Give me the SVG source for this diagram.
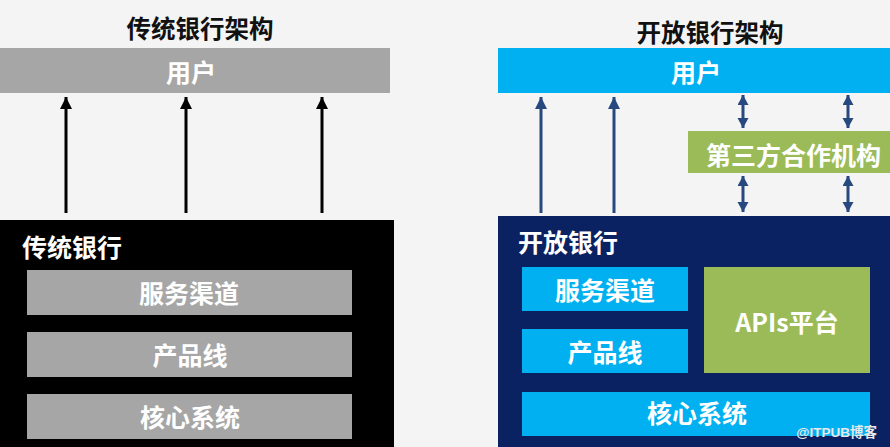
<svg xmlns="http://www.w3.org/2000/svg" width="890" height="447" viewBox="0 0 890 447">
<defs>
<style>
text{font-family:"Noto Sans CJK SC","Liberation Sans",sans-serif;font-weight:bold;dominant-baseline:central}
.w{fill:#ffffff}
.c{text-anchor:middle}
.t{fill:#111111;font-size:24.5px;text-anchor:middle}
.l{font-size:25px}
.ka{stroke:#000;stroke-width:3;fill:none}
.ba{stroke:#27497f;stroke-width:3;fill:none}
</style>
<marker id="hk" markerUnits="userSpaceOnUse" markerWidth="14" markerHeight="14" refX="12" refY="6" orient="auto"><path d="M0,0 L12,6 L0,12 Z" fill="#000"/></marker>
<marker id="hb" markerUnits="userSpaceOnUse" markerWidth="14" markerHeight="14" refX="12" refY="6" orient="auto"><path d="M0,0 L12,6 L0,12 Z" fill="#27497f"/></marker>
<marker id="hbs" markerUnits="userSpaceOnUse" markerWidth="12" markerHeight="12" refX="10" refY="5.5" orient="auto-start-reverse"><path d="M0,0 L10,5.5 L0,11 Z" fill="#27497f"/></marker>
</defs>
<rect width="890" height="447" fill="#f4f4f4"/>

<g id="title-left"><text class="t" x="200" y="27">传统银行架构</text></g>
<g id="title-right"><text class="t" x="710" y="31">开放银行架构</text></g>

<g id="user-left"><rect x="0" y="48" width="390" height="45" fill="#a6a6a6"/><text class="w c l" x="191" y="71">用户</text></g>
<g id="user-right"><rect x="498" y="48" width="392" height="45" fill="#00b0f0"/><text class="w c l" x="696" y="71">用户</text></g>

<g id="trad-bank"><rect x="0" y="220" width="394" height="227" fill="#000000"/><text class="w l" x="22" y="246">传统银行</text></g>
<g id="trad-channel"><rect x="27" y="270" width="325" height="45" fill="#a6a6a6"/><text class="w c l" x="189" y="292">服务渠道</text></g>
<g id="trad-product"><rect x="27" y="332" width="325" height="45" fill="#a6a6a6"/><text class="w c l" x="190" y="354">产品线</text></g>
<g id="trad-core"><rect x="27" y="394" width="325" height="45" fill="#a6a6a6"/><text class="w c l" x="190" y="416">核心系统</text></g>

<g id="third-party"><rect x="688" y="131" width="202" height="42" fill="#9bbb59"/><text class="w l" x="706" y="154">第三方合作机构</text></g>

<g id="open-bank"><rect x="498" y="216" width="392" height="231" fill="#0b2262"/><text class="w l" x="518" y="241">开放银行</text></g>
<g id="open-channel"><rect x="522" y="267" width="166" height="44" fill="#00b0f0"/><text class="w c l" x="605" y="289">服务渠道</text></g>
<g id="open-product"><rect x="522" y="329" width="166" height="44" fill="#00b0f0"/><text class="w c l" x="605" y="351">产品线</text></g>
<g id="open-api"><rect x="704" y="267" width="166" height="106" fill="#9bbb59"/><text class="w c l" x="787" y="321">APIs平台</text></g>
<g id="open-core"><rect x="522" y="392" width="348" height="44" fill="#00b0f0"/><text class="w c l" x="697" y="412">核心系统</text></g>

<g id="connectors">
<line class="ka" x1="66" y1="213" x2="66" y2="97" marker-end="url(#hk)"/>
<line class="ka" x1="186" y1="213" x2="186" y2="97" marker-end="url(#hk)"/>
<line class="ka" x1="322" y1="213" x2="322" y2="97" marker-end="url(#hk)"/>
<line class="ba" x1="541" y1="213" x2="541" y2="97" marker-end="url(#hb)"/>
<line class="ba" x1="614" y1="213" x2="614" y2="97" marker-end="url(#hb)"/>
<line class="ba" x1="743" y1="95" x2="743" y2="128" marker-start="url(#hbs)" marker-end="url(#hbs)"/>
<line class="ba" x1="848" y1="95" x2="848" y2="128" marker-start="url(#hbs)" marker-end="url(#hbs)"/>
<line class="ba" x1="743" y1="176" x2="743" y2="212" marker-start="url(#hbs)" marker-end="url(#hbs)"/>
<line class="ba" x1="848" y1="176" x2="848" y2="212" marker-start="url(#hbs)" marker-end="url(#hbs)"/>
</g>

<g id="watermark"><text x="877" y="432" style="font-size:13.5px;fill:#e8e8e8;text-anchor:end;font-family:'Liberation Sans','Noto Sans CJK SC',sans-serif">@ITPUB博客</text></g>
</svg>
